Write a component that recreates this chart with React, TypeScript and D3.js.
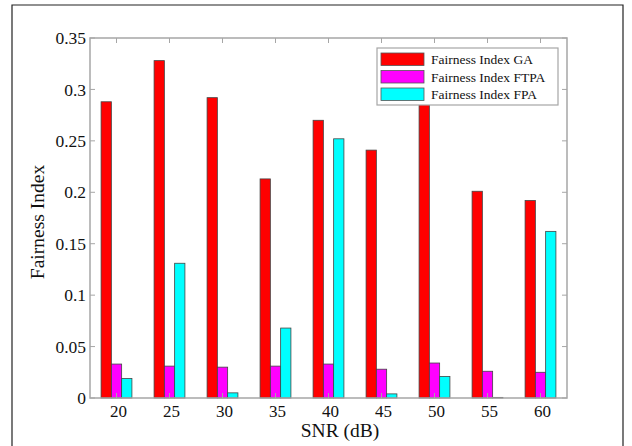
import React from 'react';
import * as d3 from 'd3';

const snr = [20, 25, 30, 35, 40, 45, 50, 55, 60];
const fairnessGA = [0.288, 0.328, 0.292, 0.213, 0.27, 0.241, 0.29, 0.201, 0.192];
const fairnessFTPA = [0.033, 0.031, 0.03, 0.031, 0.033, 0.028, 0.034, 0.026, 0.025];
const fairnessFPA = [0.019, 0.131, 0.005, 0.068, 0.252, 0.004, 0.021, 0.0006, 0.162];
const yTicks = [0, 0.05, 0.1, 0.15, 0.2, 0.25, 0.3, 0.35];
const seriesNames = ['Fairness Index GA', 'Fairness Index FTPA', 'Fairness Index FPA'];
const seriesColors = ['#ff0000', '#ff00ff', '#00ffff'];

const App = () => {
  const width = 632;
  const height = 446;
  const plot = { left: 90, right: 567, top: 38, bottom: 398 };
  const font = '"Liberation Serif", "Times New Roman", serif';
  const axisColor = '#a6a6a6';

  const x = d3.scaleLinear().domain([17.5, 62.5]).range([plot.left, plot.right]);
  const y = d3.scaleLinear().domain([0, 0.35]).range([plot.bottom, plot.top]);

  const barW = x(0.97) - x(0);
  const series = [fairnessGA, fairnessFTPA, fairnessFPA];

  return (
    <svg width={width} height={height} style={{ position: 'absolute', left: 0, top: 0, background: '#fff' }}>
      {/* outer frame */}
      <path d={`M12,${height} V5 H623 V${height}`} fill="none" stroke="#222" strokeWidth={1.2} />

      {/* bars */}
      {series.map((vals, si) =>
        vals.map((v, i) => (
          <rect
            key={`${si}-${i}`}
            x={x(snr[i]) + (si - 1) * barW - barW / 2}
            y={y(v)}
            width={barW}
            height={Math.max(0.5, y(0) - y(v))}
            fill={seriesColors[si]}
            stroke="#444"
            strokeWidth={0.8}
          />
        ))
      )}

      {/* axes box */}
      <rect x={plot.left} y={plot.top} width={plot.right - plot.left} height={plot.bottom - plot.top}
        fill="none" stroke={axisColor} strokeWidth={1.5} />

      {/* y ticks */}
      {yTicks.map(t => (
        <g key={`y${t}`}>
          <line x1={plot.left} x2={plot.left + 5} y1={y(t)} y2={y(t)} stroke={axisColor} />
          <line x1={plot.right} x2={plot.right - 5} y1={y(t)} y2={y(t)} stroke={axisColor} />
          <text x={plot.left - 4} y={y(t)} dy="0.35em" textAnchor="end" fontFamily={font} fontSize={17.5} fill="#111">
            {d3.format('')(t)}
          </text>
        </g>
      ))}

      {/* x ticks */}
      {snr.map(s => (
        <g key={`x${s}`}>
          <line x1={x(s)} x2={x(s)} y1={plot.bottom} y2={plot.bottom - 5} stroke={axisColor} />
          <line x1={x(s)} x2={x(s)} y1={plot.top} y2={plot.top + 5} stroke={axisColor} />
          <text x={x(s) + 2} y={plot.bottom + 19} textAnchor="middle" fontFamily={font} fontSize={17} fill="#111">
            {s}
          </text>
        </g>
      ))}

      {/* axis labels */}
      <text x={340} y={437} textAnchor="middle" fontFamily={font} fontSize={19.5} fill="#111">SNR (dB)</text>
      <text transform="translate(44,222) rotate(-90)" textAnchor="middle" fontFamily={font} fontSize={19.5} fill="#111">
        Fairness Index
      </text>

      {/* legend */}
      <rect x={377} y={48} width={181} height={57} fill="#fff" stroke={axisColor} strokeWidth={1.2} />
      {seriesNames.map((name, i) => (
        <g key={name} transform={`translate(381,${53 + i * 17.5})`}>
          <rect width={43} height={12.5} fill={seriesColors[i]} stroke="#555" strokeWidth={0.8} />
          <text x={50} y={11} fontFamily={font} fontSize={13.5} fill="#111">{name}</text>
        </g>
      ))}
    </svg>
  );
};

export default App;
